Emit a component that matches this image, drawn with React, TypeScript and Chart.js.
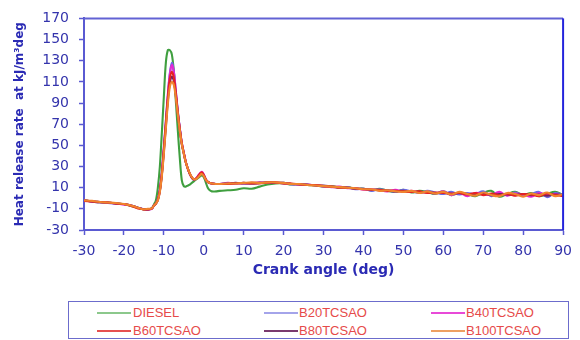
import React, { useEffect, useRef } from "react";
import { Chart, registerables } from "chart.js";

Chart.register(...registerables);

// Crank angle (deg)
const angles = [
  -30, -28, -26, -24, -22, -20, -18, -16, -15, -14, -13,
  -12.5, -12, -11.5, -11, -10.5, -10, -9.5, -9, -8.5, -8,
  -7.5, -7, -6.5, -6, -5.5, -5, -4.5, -4, -3.5, -3,
  -2.5, -2, -1.5, -1, -0.5, 0, 0.5, 1, 1.5, 2,
  3, 4,
  6, 8, 10, 12, 14, 16, 18, 20, 22, 24, 26, 28, 30, 32, 34, 36, 38, 40,
  42, 44, 46, 48, 50, 52, 54, 56, 58, 60, 62, 64, 66, 68, 70, 72, 74, 76,
  78, 80, 82, 84, 86, 88, 90,
];

const diesel = [
  -2, -3, -3.5, -4, -5, -5.5, -7.5, -9.5, -10.5, -10.5, -9.5,
  -6, -2, 10, 30, 62, 96, 128, 140, 140, 136,
  120, 92, 64, 38, 17, 11.5, 11, 12, 13, 14.5,
  16, 17.5, 19, 20.5, 21.5, 20, 15, 10, 7.5, 6.5,
  6.5, 7,
  7.5, 8, 9.5, 9, 11, 13, 14, 14, 13, 13.5, 12.5, 12, 11, 11.5, 10, 10.5, 9, 9,
  7.5, 9, 7, 6, 8, 5.5, 7, 6, 4, 6.5, 3, 5, 4, 2, 5, 7, 1.5, 4,
  6, 3, 5, 2, 4, 6, 3,
];

const b20 = [
  -2, -3, -3.5, -4.5, -5, -5.5, -7, -9.5, -10.5, -10.5, -9.5,
  -7, -5, -1, 8, 25, 48, 73, 98, 118, 128,
  120, 101, 82, 66, 52, 43, 34, 28, 23, 19.5,
  17.5, 18, 20, 22.5, 24, 22, 18, 15.5, 14.5, 14,
  13.5, 13.5,
  14, 14, 14.5, 14, 14.5, 15, 14.5, 14.5, 13, 13.5, 12.5, 12.5, 11, 11, 10, 10.5, 8.5, 9,
  7, 8.5, 7.5, 6, 8, 6.5, 5, 7, 5.5, 4, 6, 3.5, 5, 4, 6.5, 2, 4, 3,
  5.5, 2.5, 4, 6, 1, 5, 3,
];

const b40 = [
  -2, -3, -3.5, -4, -5, -6, -7, -9.5, -10.5, -10.5, -10,
  -7, -5, -1, 8, 24, 47, 72, 97, 117, 126,
  119, 101, 82, 66, 52, 43, 34.5, 28, 23, 19.5,
  18, 18.5, 21, 23.5, 25, 22.5, 18, 15.5, 14.5, 14,
  13.5, 13.5,
  14.5, 14, 14, 14.5, 15, 14.5, 15, 14, 13.5, 13, 13, 12, 11.5, 10.5, 11, 9.5, 9.5, 8,
  8.5, 7.5, 6.5, 8, 6, 7, 5.5, 6, 4.5, 6.5, 3, 5.5, 2, 5, 4, 3, 6, 2.5,
  4.5, 3.5, 1.5, 5, 3, 4, 2.5,
];

const b60 = [
  -2.5, -3, -3.5, -4, -5, -5.5, -7.5, -10, -10.5, -10.5, -9.5,
  -7, -5, -1.5, 7, 23, 46, 70, 95, 113, 119.5,
  114, 99, 81, 65, 52, 43, 34, 28, 23, 20,
  18, 18.5, 20.5, 23, 24.5, 22, 18, 15.5, 14.5, 14,
  13.5, 13.5,
  13.5, 14, 14.5, 14, 14, 15, 15, 14, 14, 13, 12.5, 12.5, 11.5, 11, 10, 10, 9.5, 8.5,
  8, 8, 7, 7, 6.5, 6, 6.5, 5, 5.5, 5, 4.5, 5, 3.5, 5, 3, 4.5, 3, 4,
  2.5, 4, 3.5, 2, 4.5, 3, 2,
];

const b80 = [
  -2, -3, -4, -4, -5, -5.5, -7, -9.5, -10.5, -10.5, -9.5,
  -7, -5, -1.5, 7, 22, 44, 68, 92, 109, 115,
  111, 97, 80, 65, 51, 42, 34, 28, 23, 19.5,
  17.5, 18, 20, 22, 23.5, 21.5, 17.5, 15.5, 14.5, 14,
  13.5, 13.5,
  14, 14.5, 14, 14, 14.5, 15, 14.5, 14.5, 13.5, 13, 13, 12, 12, 11, 10.5, 10, 9, 9,
  8, 7.5, 7.5, 6.5, 7, 6, 6, 5.5, 5, 5.5, 4, 5, 4, 3.5, 4.5, 3, 4, 3.5,
  3, 4, 3, 3.5, 2.5, 3.5, 3,
];

const b100 = [
  -2, -2.5, -3.5, -4, -4.5, -5.5, -7, -9.5, -10.5, -10, -9.5,
  -7, -5, -2, 6, 21, 42, 66, 89, 105, 110,
  107, 95, 79, 64, 51, 42, 34, 28, 23.5, 20,
  18, 18, 19.5, 21.5, 23, 21, 17.5, 15.5, 14.5, 14,
  13.5, 13.5,
  14, 14, 14.5, 15, 14.5, 15, 15, 14.5, 13.5, 13.5, 12.5, 12, 11.5, 11, 10.5, 10, 9.5, 8.5,
  8.5, 7, 7.5, 6.5, 6, 7, 5, 6.5, 4.5, 6, 3.5, 6, 4, 2.5, 5.5, 3, 2, 5,
  4, 1.5, 4.5, 3, 5.5, 2, 4,
];

const seriesNames = ["DIESEL", "B20TCSAO", "B40TCSAO", "B60TCSAO", "B80TCSAO", "B100TCSAO"];
const seriesValues = [diesel, b20, b40, b60, b80, b100];
const seriesColors = ["#3f9f3f", "#6a6ae6", "#e22ad2", "#e52222", "#6e2462", "#f0842e"];
const seriesOrder = [5, 4, 3, 1, 2, 0];
const legendLineColors = ["#8cc88c", "#a4a4ea", "#e84ad8", "#e65050", "#7a3a6e", "#eea062"];

const xMin = -30;
const xMax = 90;
const xStep = 10;
const yMin = -30;
const yMax = 170;
const yStep = 20;

const xTitle = "Crank angle (deg)";
const yTitle = "Heat release rate  at kJ/m\u00b3deg";

const tickColor = "#3434ac";
const titleColor = "#2a2ab4";
const axisColor = "#5a5ad2";

const frame = {
  id: "frame",
  afterDatasetsDraw(chart: any) {
    const { ctx, chartArea } = chart;
    ctx.save();
    ctx.lineWidth = 2;
    ctx.strokeStyle = "#6262d4";
    ctx.beginPath();
    ctx.moveTo(chartArea.left, chartArea.top);
    ctx.lineTo(chartArea.right, chartArea.top);
    ctx.stroke();
    ctx.strokeStyle = "#2424dc";
    ctx.beginPath();
    ctx.moveTo(chartArea.right, chartArea.top);
    ctx.lineTo(chartArea.right, chartArea.bottom);
    ctx.stroke();
    ctx.restore();
  },
};

export default function App() {
  const ref = useRef<HTMLCanvasElement | null>(null);

  useEffect(() => {
    if (!ref.current) return;
    const chart = new Chart(ref.current, {
      type: "line",
      data: {
        datasets: seriesNames.map((name, i) => ({
          label: name,
          data: angles.map((a, j) => ({ x: a, y: seriesValues[i][j] })),
          borderColor: seriesColors[i],
          backgroundColor: seriesColors[i],
          borderWidth: 2.1,
          pointRadius: 0,
          tension: 0.35,
          fill: false,
          order: seriesOrder[i],
        })),
      },
      plugins: [frame],
      options: {
        animation: false,
        responsive: false,
        maintainAspectRatio: false,
        events: [],
        layout: { padding: { top: 16, right: 16, left: 0, bottom: 0 } },
        plugins: {
          legend: { display: false },
          tooltip: { enabled: false },
        },
        scales: {
          x: {
            type: "linear",
            min: xMin,
            max: xMax,
            ticks: {
              stepSize: xStep,
              color: tickColor,
              font: { family: "DejaVu Sans", size: 14 },
              padding: 8,
              maxRotation: 0,
            },
            grid: {
              drawOnChartArea: false,
              tickLength: 5,
              color: axisColor,
              tickWidth: 1.5,
            },
            border: { display: true, color: axisColor, width: 2 },
            title: {
              display: true,
              text: xTitle,
              color: titleColor,
              font: { family: "DejaVu Sans", size: 14, weight: "bold" },
              padding: { top: 0, bottom: 16 },
            },
            afterFit: (s: any) => {
              s.height = 65;
            },
          },
          y: {
            type: "linear",
            min: yMin,
            max: yMax,
            ticks: {
              stepSize: yStep,
              color: tickColor,
              font: { family: "DejaVu Sans", size: 14 },
              padding: 10,
            },
            grid: {
              drawOnChartArea: false,
              tickLength: 5,
              color: axisColor,
              tickWidth: 1.5,
            },
            border: { display: true, color: axisColor, width: 2 },
            title: {
              display: true,
              text: yTitle,
              color: titleColor,
              font: { family: "DejaVu Sans", size: 12, weight: "bold" },
              padding: { top: 13, bottom: 0 },
            },
            afterFit: (s: any) => {
              s.width = 84;
            },
          },
        },
      },
    });
    return () => chart.destroy();
  }, []);

  const colLine = [28, 195, 362];
  const colText = [64, 230, 397];
  const rowY = [11, 29];

  return (
    <div style={{ position: "absolute", left: 0, top: 0, width: 580, height: 340, background: "#fff" }}>
      <canvas ref={ref} width={580} height={295} style={{ position: "absolute", left: 0, top: 0, width: 580, height: 295 }} />
      <div
        style={{
          position: "absolute",
          left: 68,
          top: 301,
          width: 501,
          height: 38,
          boxSizing: "border-box",
          border: "1.5px solid #6c6ccc",
          fontFamily: "Liberation Sans, Arial, sans-serif",
          fontSize: 13,
          color: "#e64a4a",
        }}
      >
        {seriesNames.map((name, i) => {
          const col = i % 3;
          const row = Math.floor(i / 3);
          return (
            <React.Fragment key={name}>
              <div
                style={{
                  position: "absolute",
                  left: colLine[col],
                  top: rowY[row] - 1,
                  width: 34,
                  height: 2,
                  background: legendLineColors[i],
                }}
              />
              <div
                style={{
                  position: "absolute",
                  left: colText[col],
                  top: rowY[row] - 8,
                  lineHeight: "16px",
                  whiteSpace: "nowrap",
                }}
              >
                {name}
              </div>
            </React.Fragment>
          );
        })}
      </div>
    </div>
  );
}
